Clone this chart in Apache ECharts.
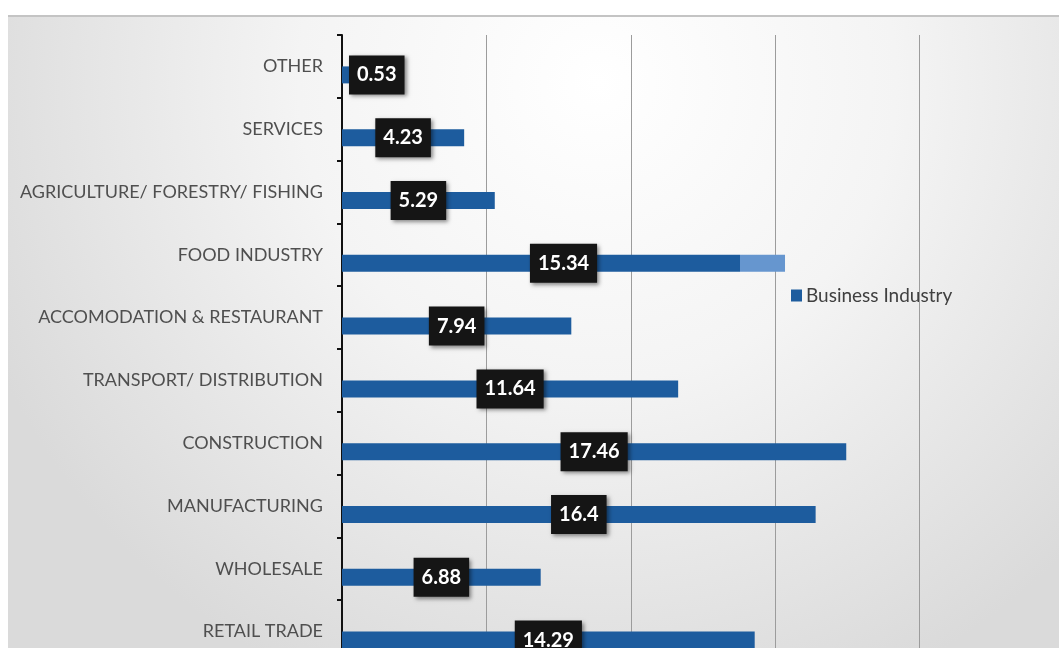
<!DOCTYPE html>
<html>
<head>
<meta charset="utf-8">
<script src="https://cdn.jsdelivr.net/npm/echarts@6/dist/echarts.min.js"></script>
<style>
  html, body { margin: 0; padding: 0; background: #ffffff; overflow: hidden; width: 1059px; height: 648px; }
  /* the plot runs past the right and bottom edges of the page */
  #chart { width: 1080px; height: 680px; }
</style>
</head>
<body>
<div id="chart"></div>
<script>
// Sectors, listed bottom to top along the category axis
const categories = [
  'RETAIL TRADE',
  'WHOLESALE',
  'MANUFACTURING',
  'CONSTRUCTION',
  'TRANSPORT/ DISTRIBUTION',
  'ACCOMODATION & RESTAURANT',
  'FOOD INDUSTRY',
  'AGRICULTURE/ FORESTRY/ FISHING',
  'SERVICES',
  'OTHER'
];

// Share of businesses per sector (%)
const shares = [14.29, 6.88, 16.4, 17.46, 11.64, 7.94, 15.34, 5.29, 4.23, 0.53];

const seriesName = 'Business Industry';

// Value axis range
const axisMin = 0;
const axisMax = 25;
const axisStep = 5;

const BAR_BLUE = '#1d5c9e';
const FONT = 'Lato, "Open Sans", sans-serif';

// The food industry bar fades to a lighter blue at its tip
const fadedTip = {
  type: 'linear', x: 0, y: 0, x2: 1, y2: 0,
  colorStops: [
    { offset: 0, color: BAR_BLUE },
    { offset: 0.898, color: BAR_BLUE },
    { offset: 0.898, color: '#6696cf' },
    { offset: 1, color: '#6696cf' }
  ]
};

const barData = shares.map((v, i) => {
  const item = { value: v };
  if (categories[i] === 'FOOD INDUSTRY') item.itemStyle = { color: fadedTip };
  // very short bars keep their label anchored at the bar start
  if (v < 2) item.label = { position: 'insideLeft', distance: 7 };
  return item;
});

const chart = echarts.init(document.getElementById('chart'), null, { renderer: 'canvas' });

chart.setOption({
  animation: false,
  backgroundColor: '#ffffff',
  graphic: [
    {
      type: 'rect',
      z: -10,
      silent: true,
      shape: { x: 8, y: 16, width: 1072, height: 664 },
      style: {
        fill: {
          type: 'radial', x: 0.55, y: 0.1, r: 1.0,
          colorStops: [
            { offset: 0, color: '#ffffff' },
            { offset: 0.45, color: '#f4f4f4' },
            { offset: 1, color: '#dadada' }
          ]
        }
      }
    },
    {
      type: 'line',
      z: -9,
      silent: true,
      shape: { x1: 8, y1: 16, x2: 1080, y2: 16 },
      style: { stroke: '#c4c4c4', lineWidth: 2 }
    }
  ],
  legend: {
    data: [seriesName],
    left: 786,
    top: 281,
    icon: 'rect',
    itemWidth: 11,
    itemHeight: 12,
    itemGap: 10,
    textStyle: { color: '#404040', fontSize: 19, fontFamily: FONT, padding: [0, 0, 0, -1] }
  },
  grid: {
    left: 342,
    top: 35,
    width: 722,
    height: 628,
    containLabel: false
  },
  xAxis: {
    type: 'value',
    min: axisMin,
    max: axisMax,
    interval: axisStep,
    axisLine: { show: false },
    axisTick: { show: false },
    axisLabel: { show: false },
    splitLine: { show: true, lineStyle: { color: '#9c9c9c', width: 1 } }
  },
  yAxis: {
    type: 'category',
    data: categories,
    axisLine: { show: true, lineStyle: { color: '#111111', width: 2 } },
    axisTick: { show: true, length: 5, lineStyle: { color: '#111111', width: 2 } },
    axisLabel: {
      margin: 19,
      color: '#4f4f4f',
      fontSize: 18,
      fontFamily: FONT
    },
    splitLine: { show: false }
  },
  series: [
    {
      // empty slot: pushes the visible bar just below the category centre
      type: 'bar',
      name: 'spacer',
      data: categories.map(() => '-'),
      barWidth: 17,
      barGap: 0,
      silent: true
    },
    {
      type: 'bar',
      name: seriesName,
      data: barData,
      barWidth: 17,
      barGap: 0,
      itemStyle: { color: BAR_BLUE },
      label: {
        show: true,
        position: 'inside',
        formatter: '{c}',
        color: '#ffffff',
        fontSize: 20,
        fontWeight: 'bold',
        fontFamily: FONT,
        backgroundColor: '#151515',
        padding: [10, 8, 9, 8],
        shadowColor: 'rgba(0,0,0,0.45)',
        shadowBlur: 4,
        shadowOffsetX: 2,
        shadowOffsetY: 2
      }
    }
  ]
});
</script>
</body>
</html>
